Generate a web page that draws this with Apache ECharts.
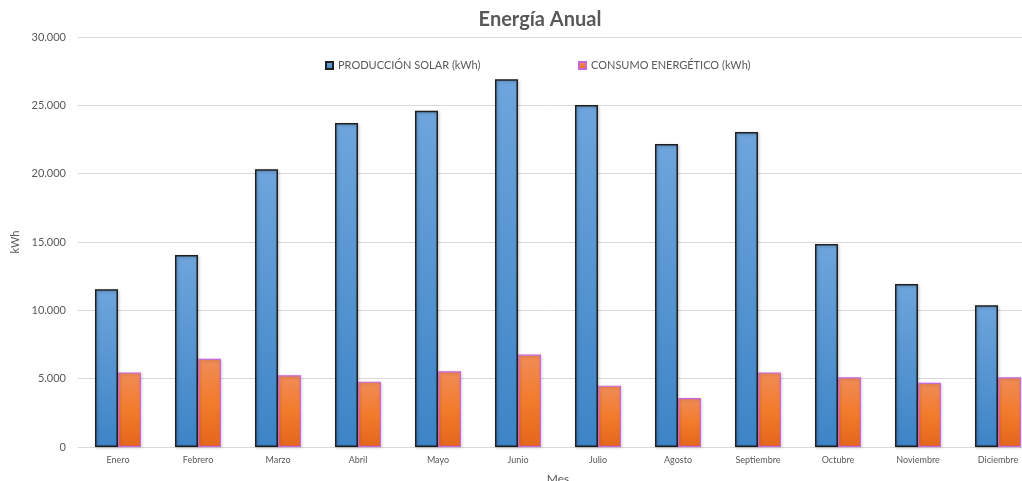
<!DOCTYPE html>
<html>
<head>
<meta charset="utf-8">
<script src="https://cdn.jsdelivr.net/npm/echarts@6/dist/echarts.min.js"></script>
<style>html,body{margin:0;padding:0;background:#fff}#c{width:1022px;height:481px}</style>
</head>
<body>
<div id="c"></div>
<script>
const meses = ['Enero','Febrero','Marzo','Abril','Mayo','Junio','Julio','Agosto','Septiembre','Octubre','Noviembre','Diciembre'];
const produccion = [11550, 14050, 20320, 23700, 24600, 26900, 25020, 22170, 23050, 14850, 11920, 10380];
const consumo = [5460, 6460, 5250, 4780, 5540, 6760, 4490, 3590, 5460, 5100, 4700, 5100];
const yTicks = [0, 5000, 10000, 15000, 20000, 25000, 30000];

const FONT = 'Lato';
const GRAY = '#595959';
const chart = echarts.init(document.getElementById('c'));
function fmt(v){ return String(v).replace(/\B(?=(\d{3})+(?!\d))/g, '.'); }
chart.setOption({
  animation: false,
  backgroundColor: '#fff',
  title: {
    text: 'Energía Anual', left: 535, top: 5, textAlign: 'center',
    textStyle: { fontFamily: FONT, fontSize: 20, fontWeight: 'bold', color: GRAY }
  },
  legend: [
    { data: ['PRODUCCIÓN SOLAR (kWh)'], left: 320, top: 55, itemWidth: 7, itemHeight: 7, itemGap: 5, icon: 'rect',
      textStyle: { fontFamily: FONT, fontSize: 11, color: GRAY } },
    { data: ['CONSUMO ENERGÉTICO (kWh)'], left: 573, top: 55, itemWidth: 7, itemHeight: 7, itemGap: 5, icon: 'rect',
      textStyle: { fontFamily: FONT, fontSize: 11, color: GRAY } }
  ],
  grid: { left: 78, top: 37, width: 960, height: 410, containLabel: false, outerBoundsMode: 'none' },
  xAxis: {
    type: 'category', data: meses,
    name: 'Mes', nameLocation: 'middle', nameGap: 26,
    nameTextStyle: { fontFamily: FONT, fontSize: 12, color: GRAY },
    axisLine: { lineStyle: { color: '#d9d9d9', width: 1 } },
    axisTick: { show: false },
    axisLabel: { fontFamily: FONT, fontSize: 9, color: GRAY, margin: 9 }
  },
  yAxis: {
    type: 'value', min: yTicks[0], max: yTicks[yTicks.length-1], interval: 5000,
    name: 'kWh', nameLocation: 'middle', nameGap: 55, nameRotate: 90,
    nameTextStyle: { fontFamily: FONT, fontSize: 11, color: GRAY },
    axisLine: { show: false }, axisTick: { show: false },
    splitLine: { lineStyle: { color: '#d9d9d9', width: 1 } },
    axisLabel: { fontFamily: FONT, fontSize: 11, color: GRAY, margin: 12, formatter: fmt }
  },
  series: [
    { name: 'PRODUCCIÓN SOLAR (kWh)', type: 'bar', data: produccion, barWidth: 23, barGap: '0%',
      itemStyle: {
        color: new echarts.graphic.LinearGradient(0,0,0,1,[{offset:0,color:'#6ea5dc'},{offset:1,color:'#3d84c6'}]),
        borderColor: '#1f1f1f', borderWidth: 1.5,
        shadowColor: 'rgba(0,0,0,0.25)', shadowBlur: 3, shadowOffsetX: 1, shadowOffsetY: 1
      }
    },
    { name: 'CONSUMO ENERGÉTICO (kWh)', type: 'bar', data: consumo, barWidth: 23, barGap: '0%',
      itemStyle: {
        color: new echarts.graphic.LinearGradient(0,0,0,1,[{offset:0,color:'#f08c58'},{offset:0.5,color:'#f27b2c'},{offset:1,color:'#e4661a'}]),
        borderColor: '#cc66dd', borderWidth: 1.2,
        shadowColor: 'rgba(0,0,0,0.2)', shadowBlur: 3, shadowOffsetX: 1, shadowOffsetY: 1
      }
    }
  ]
});
</script>
</body>
</html>
